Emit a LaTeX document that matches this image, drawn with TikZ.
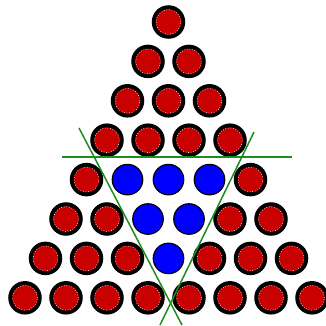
\documentclass[tikz,border=0pt]{standalone}
\usetikzlibrary{positioning}
\definecolor{Ball}{HTML}{C80000}
\definecolor{Core}{HTML}{0000FF}
\definecolor{Cut}{HTML}{1E8C1E}
\tikzset{
  ball/.style={
    circle, draw=black, line width=4pt, fill=Ball,
    minimum size=29.5pt, inner sep=0pt
  },
  blueball/.style={
    circle, draw=black, line width=1.2pt, fill=Core,
    minimum size=30.5pt, inner sep=0pt
  },
  speck/.style={draw=white, dotted, line width=0.6pt},
  cut/.style={draw=Cut, line width=1.5pt}
}

\begin{document}
\begin{tikzpicture}[x=1pt,y=-1pt]
  \useasboundingbox (0,0) rectangle (326,325);
  % triangle of balls, blue ones in the cut-out
  \foreach \r in {1,...,8}{
    \foreach \k in {1,...,\r}{
      \pgfmathtruncatemacro{\isblue}{and(and(\r>4,\r<8),and(\k>\r-4,\k<5))}
      \ifnum\isblue=1
        \node[blueball] (b-\r-\k) at ({168.5+(\k-(\r+1)/2)*41},{22+(\r-1)*39.4}) {};
      \else
        \node[ball] (b-\r-\k) at ({168.5+(\k-(\r+1)/2)*41},{22+(\r-1)*39.4}) {};
        \draw[speck] (b-\r-\k.center) circle (12.4pt);
      \fi
    }
  }
  % the cut lines
  \coordinate (h1) at (62,157);
  \coordinate (h2) at (292,157);
  \coordinate (l1) at (79,128);
  \coordinate (l2) at (182,325);
  \coordinate (r1) at (254,132);
  \coordinate (r2) at (160,325);
  \draw[cut] (h1) -- (h2);
  \draw[cut] (l1) -- (l2);
  \draw[cut] (r1) -- (r2);
\end{tikzpicture}
\end{document}
